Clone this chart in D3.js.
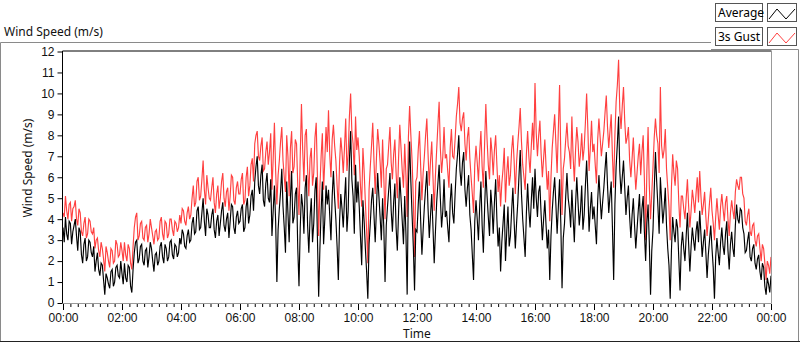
<!DOCTYPE html>
<html>
<head>
<meta charset="utf-8">
<script src="https://cdn.jsdelivr.net/npm/d3@7/dist/d3.min.js"></script>
<style>
  body { margin: 0; background: #fff; }
  svg { display: block; font-family: "Segoe UI", "Noto Sans", sans-serif; }
  .tick text { font-size: 12px; fill: #111; }
  .tick line { stroke: #000; }
</style>
</head>
<body>
<div id="chart"></div>
<script>
// one sample every 2.5 minutes, 00:00 -> 24:00 (one row per hour)
const stepMinutes = 2.5;

const avgSpeed = [
  3.6, 2.9, 4.1, 3.3, 3.0, 3.9, 3.8, 2.8, 3.4, 3.7, 4.0, 3.2, 2.5, 3.6, 3.4, 2.3, 1.9, 2.8, 3.1, 2.0, 2.2, 3.0, 2.9, 2.4,
  2.2, 2.7, 1.5, 2.0, 2.4, 1.6, 1.3, 1.9, 1.8, 1.1, 0.4, 1.4, 1.2, 0.9, 0.7, 1.5, 1.6, 0.8, 1.0, 1.7, 1.8, 1.3, 1.2, 2.0,
  1.4, 0.9, 1.9, 1.2, 1.0, 1.8, 1.7, 0.8, 0.5, 1.6, 2.4, 2.9, 3.0, 1.9, 2.1, 2.7, 2.8, 2.0, 1.8, 2.5, 2.6, 1.7, 2.2, 2.9,
  2.6, 2.0, 1.5, 2.3, 2.4, 1.8, 2.0, 2.7, 2.9, 2.2, 1.9, 2.8, 2.6, 2.0, 2.2, 2.9, 3.0, 2.3, 2.1, 2.8, 2.7, 2.2, 2.4, 3.1,
  2.8, 3.5, 3.3, 2.7, 2.6, 3.2, 3.5, 2.9, 3.0, 3.8, 4.1, 3.3, 3.4, 4.4, 4.6, 3.5, 3.6, 4.3, 5.0, 3.9, 3.2, 4.5, 4.2, 3.6,
  3.6, 4.2, 4.5, 3.5, 3.1, 3.9, 4.2, 3.2, 3.8, 4.4, 4.8, 3.7, 3.4, 4.0, 4.3, 3.1, 3.9, 4.7, 4.6, 3.6, 3.3, 4.1, 4.4, 3.8,
  3.9, 4.5, 4.7, 3.4, 3.6, 4.6, 5.0, 3.8, 4.2, 5.1, 5.4, 4.4, 5.8, 6.5, 7.0, 5.6, 5.2, 6.1, 6.6, 4.9, 4.6, 5.7, 6.2, 5.0,
  4.8, 5.9, 3.2, 4.4, 5.6, 3.9, 1.0, 3.5, 4.5, 5.3, 6.4, 4.6, 3.6, 2.4, 5.8, 4.3, 2.9, 5.0, 6.3, 3.8, 4.1, 5.2, 5.5, 2.6,
  0.8, 3.6, 5.2, 4.6, 3.3, 5.5, 6.1, 3.7, 2.4, 4.1, 5.0, 2.9, 3.8, 5.4, 6.0, 3.1, 0.3, 2.6, 4.4, 5.8, 2.8, 4.0, 5.6, 4.7,
  5.4, 4.2, 3.0, 5.1, 6.3, 5.0, 4.0, 2.7, 1.1, 3.9, 5.2, 4.5, 3.6, 4.9, 6.0, 3.4, 4.4, 6.8, 8.2, 5.9, 5.1, 3.3, 6.6, 4.8,
  5.8, 4.6, 3.2, 1.8, 4.9, 3.9, 2.6, 1.5, 0.2, 2.8, 3.8, 4.9, 5.5, 4.2, 2.9, 4.5, 6.2, 5.1, 4.1, 3.0, 5.0, 3.6, 1.0, 3.7,
  4.6, 5.4, 6.2, 4.4, 3.4, 4.8, 5.7, 3.6, 2.5, 4.3, 6.0, 5.0, 3.9, 2.8, 5.1, 3.3, 0.4, 5.6, 7.7, 5.8, 4.2, 2.7, 0.6, 3.5,
  3.4, 4.7, 5.8, 3.9, 2.3, 3.5, 4.6, 5.5, 6.3, 4.5, 3.1, 4.2, 5.2, 3.6, 1.9, 3.4, 4.8, 5.7, 6.6, 5.0, 3.6, 4.4, 5.9, 4.1,
  4.4, 3.6, 2.9, 4.8, 5.7, 4.3, 3.8, 5.2, 6.4, 7.1, 8.0, 6.3, 5.6, 6.7, 7.2, 5.4, 4.6, 5.5, 6.1, 4.2, 3.5, 2.3, 1.1, 3.9,
  4.9, 4.0, 3.0, 4.6, 5.8, 3.7, 2.4, 4.5, 6.3, 5.1, 4.1, 3.2, 5.4, 4.6, 3.3, 4.8, 5.9, 4.0, 2.7, 3.6, 1.5, 2.9, 3.8, 4.7,
  2.0, 3.4, 4.6, 2.7, 3.2, 4.4, 5.5, 3.9, 2.6, 3.8, 4.8, 6.1, 7.3, 5.2, 4.0, 3.1, 2.2, 4.3, 5.7, 4.4, 3.6, 4.9, 6.0, 4.5,
  6.4, 5.0, 4.1, 5.3, 5.6, 4.2, 3.0, 4.0, 4.9, 3.7, 2.6, 3.5, 1.1, 3.2, 4.4, 5.3, 6.0, 4.7, 3.3, 4.6, 5.9, 3.8, 0.7, 3.1,
  3.8, 5.1, 6.2, 5.0, 4.5, 3.6, 5.4, 4.1, 2.9, 4.7, 6.0, 4.8, 3.7, 4.4, 5.6, 3.5, 4.2, 5.6, 6.8, 5.3, 3.4, 4.5, 5.3, 4.0,
  4.6, 3.7, 2.8, 4.9, 6.1, 5.0, 4.0, 4.8, 5.5, 6.4, 7.2, 5.6, 4.3, 5.1, 5.8, 3.6, 1.1, 4.7, 6.5, 7.6, 8.9, 6.3, 5.2, 6.0,
  6.8, 5.5, 4.2, 5.0, 5.6, 4.1, 3.1, 4.2, 5.0, 3.7, 2.6, 3.5, 4.4, 5.2, 3.3, 4.5, 5.1, 3.4, 2.0, 3.8, 4.7, 2.9, 0.4, 2.5,
  3.5, 5.4, 7.2, 5.8, 4.6, 3.3, 6.0, 4.9, 3.8, 4.5, 5.5, 3.7, 2.6, 1.8, 0.2, 2.5, 4.1, 3.4, 2.9, 4.0, 3.6, 2.1, 0.6, 2.7,
  3.4, 2.6, 2.0, 3.2, 4.3, 2.8, 1.5, 2.7, 3.6, 3.0, 2.5, 3.4, 3.9, 2.9, 4.4, 3.3, 2.2, 2.9, 3.5, 2.4, 1.2, 2.3, 3.0, 3.7,
  2.6, 1.7, 0.2, 2.2, 3.1, 2.4, 1.8, 2.9, 3.6, 2.7, 2.3, 3.3, 3.9, 2.5, 1.6, 2.8, 3.4, 2.6, 2.2, 3.7, 4.7, 4.0, 3.8, 4.5,
  4.4, 3.6, 3.3, 2.4, 2.5, 3.0, 3.4, 2.2, 2.0, 2.6, 2.8, 1.9, 1.6, 2.1, 2.3, 1.5, 1.1, 1.9, 1.7, 0.8, 0.4, 1.2, 0.9, 0.5,
  1.3
];

const gustSpeed = [
  4.3, 4.1, 5.1, 4.4, 4.0, 4.7, 4.8, 3.9, 4.5, 4.6, 4.9, 4.0, 3.7, 4.5, 4.3, 3.4, 3.2, 3.8, 4.1, 3.1, 3.3, 4.0, 3.9, 3.4,
  3.3, 3.6, 2.6, 3.0, 3.1, 2.5, 2.2, 2.9, 2.6, 2.1, 1.5, 2.7, 2.4, 2.0, 1.7, 2.6, 2.5, 1.9, 2.0, 3.0, 2.8, 2.2, 2.3, 2.9,
  2.5, 2.0, 2.9, 2.3, 2.0, 2.8, 2.6, 1.9, 1.6, 2.7, 3.6, 4.1, 4.3, 3.0, 3.2, 3.8, 3.9, 3.1, 3.0, 3.6, 3.7, 2.9, 3.3, 4.0,
  3.6, 3.2, 2.8, 3.4, 3.5, 3.0, 3.1, 3.9, 4.1, 3.3, 3.0, 3.9, 3.8, 3.1, 3.3, 4.0, 4.0, 3.5, 3.2, 3.9, 3.8, 3.4, 3.6, 4.2,
  3.8, 4.5, 4.4, 3.9, 3.7, 4.3, 4.6, 4.0, 4.2, 5.0, 5.6, 4.6, 4.8, 5.8, 6.0, 4.9, 5.1, 5.9, 6.8, 5.4, 4.7, 6.1, 5.5, 5.0,
  4.9, 5.5, 6.0, 4.8, 4.3, 5.2, 5.6, 4.5, 5.0, 5.8, 6.2, 5.0, 4.6, 5.3, 5.5, 4.4, 5.1, 6.1, 6.0, 4.9, 4.7, 5.5, 5.8, 5.2,
  5.2, 5.9, 6.2, 4.7, 4.9, 6.0, 6.5, 5.1, 5.6, 6.6, 6.9, 5.8, 7.6, 8.0, 8.2, 7.0, 6.8, 7.5, 7.9, 6.3, 6.4, 7.2, 7.7, 6.6,
  7.2, 8.1, 5.4, 6.9, 8.6, 6.3, 4.7, 6.1, 6.8, 7.7, 8.4, 6.8, 6.0, 5.3, 8.0, 7.0, 5.1, 7.4, 8.2, 6.2, 6.5, 7.8, 7.6, 5.6,
  4.2, 7.0, 9.5, 7.3, 5.8, 8.0, 8.3, 6.4, 5.1, 6.9, 7.4, 5.6, 6.2, 7.9, 8.6, 6.0, 3.2, 5.5, 7.0, 8.1, 5.4, 6.8, 8.4, 7.2,
  9.2, 7.1, 6.0, 7.8, 8.5, 7.5, 6.8, 5.6, 4.5, 6.7, 7.9, 7.2, 6.2, 7.4, 8.8, 6.3, 7.1, 8.9, 10.0, 8.2, 7.6, 6.1, 8.9, 7.3,
  7.9, 7.0, 5.6, 4.6, 7.4, 6.3, 4.8, 3.5, 1.9, 5.4, 6.5, 7.5, 8.6, 6.8, 5.2, 6.9, 8.3, 7.6, 6.7, 5.5, 7.8, 6.0, 4.0, 6.4,
  6.6, 7.5, 8.4, 6.7, 5.9, 7.1, 7.8, 6.2, 5.0, 6.9, 8.5, 7.4, 6.3, 5.5, 7.6, 6.1, 4.1, 7.9, 9.4, 8.0, 6.8, 5.0, 2.2, 5.8,
  6.0, 7.3, 8.2, 6.5, 4.9, 6.2, 7.0, 8.0, 8.8, 7.1, 5.6, 6.8, 7.7, 6.0, 4.4, 6.1, 7.3, 8.5, 9.6, 7.4, 6.2, 7.0, 8.4, 6.9,
  7.1, 6.3, 5.5, 7.4, 8.3, 7.0, 6.9, 7.8, 8.9, 9.5, 10.3, 8.6, 8.2, 8.8, 9.1, 7.6, 6.8, 7.9, 8.4, 6.9, 6.0, 5.2, 4.3, 6.6,
  7.5, 6.7, 5.8, 7.2, 8.2, 6.5, 5.5, 7.6, 9.5, 7.8, 6.6, 5.9, 7.9, 7.2, 6.1, 7.3, 8.0, 6.6, 5.3, 6.1, 4.6, 5.7, 6.4, 7.4,
  4.8, 6.2, 7.0, 5.6, 6.1, 7.3, 8.0, 6.8, 5.2, 6.7, 7.6, 8.4, 9.3, 7.7, 6.6, 6.0, 5.4, 7.1, 8.2, 7.0, 6.2, 7.5, 8.6, 7.3,
  10.5, 8.1, 7.0, 8.0, 8.7, 7.1, 6.0, 6.9, 7.8, 6.5, 5.4, 6.3, 3.9, 6.0, 7.4, 8.2, 9.0, 7.6, 6.2, 8.3, 10.4, 7.0, 4.2, 6.4,
  6.9, 7.8, 8.6, 7.5, 7.2, 6.4, 8.9, 7.0, 5.8, 7.3, 8.4, 7.7, 6.5, 7.1, 8.1, 6.8, 7.4, 8.6, 10.0, 8.3, 6.3, 7.4, 8.7, 7.2,
  7.6, 6.6, 5.7, 7.8, 8.8, 7.9, 7.0, 7.6, 8.2, 9.1, 9.9, 8.4, 7.4, 8.2, 9.0, 7.0, 5.5, 8.0, 9.6, 10.4, 11.6, 9.2, 8.3, 9.4,
  10.3, 8.7, 7.6, 7.9, 8.4, 6.8, 6.0, 6.9, 7.9, 6.5, 5.4, 6.2, 7.0, 7.6, 6.1, 7.2, 8.0, 5.9, 3.0, 6.3, 8.4, 5.6, 4.0, 5.2,
  6.5, 7.9, 8.8, 8.0, 7.6, 6.2, 10.3, 7.5, 6.9, 7.3, 8.3, 6.4, 5.5, 4.6, 3.0, 5.5, 7.1, 6.2, 5.6, 6.8, 6.4, 4.8, 3.6, 5.1,
  5.1, 4.5, 4.0, 5.0, 5.9, 4.6, 3.6, 4.4, 5.4, 4.9, 4.3, 5.2, 6.0, 4.8, 6.3, 5.1, 4.2, 4.7, 5.3, 4.1, 3.2, 4.0, 4.8, 5.5,
  4.4, 3.8, 3.0, 4.1, 5.0, 4.2, 3.5, 4.6, 5.2, 4.5, 3.9, 4.8, 5.1, 4.0, 3.2, 4.3, 4.9, 4.4, 4.0, 5.3, 5.9, 5.6, 5.4, 6.0,
  6.0, 5.2, 5.0, 3.9, 3.7, 4.2, 4.5, 3.4, 3.2, 3.7, 3.8, 3.0, 2.7, 3.2, 3.3, 2.6, 2.0, 2.8, 2.6, 1.9, 1.1, 2.0, 1.8, 1.4,
  2.2
];

const xTickHours = [0, 2, 4, 6, 8, 10, 12, 14, 16, 18, 20, 22, 24];
const xTickLabels = ["00:00", "02:00", "04:00", "06:00", "08:00", "10:00", "12:00",
  "14:00", "16:00", "18:00", "20:00", "22:00", "00:00"];
const yTicks = [0, 1, 2, 3, 4, 5, 6, 7, 8, 9, 10, 11, 12];

const series = [
  { name: "3s Gust", values: gustSpeed, color: "#ff4040" },
  { name: "Average", values: avgSpeed, color: "#000000" }
];

const width = 800;
const height = 342;
const plot = { left: 63, right: 771, top: 51.5, bottom: 303 };

const x = d3.scaleLinear().domain([0, 24]).range([plot.left, plot.right]);
const y = d3.scaleLinear().domain([0, 12]).range([plot.bottom, plot.top]);

const svg = d3.select("#chart")
  .append("svg")
  .attr("width", width)
  .attr("height", height);

// outer panel frame
svg.append("path")
  .attr("d", "M0.5,341 V42.5 H711 M711,49.5 H798.5 V341")
  .attr("fill", "none")
  .attr("stroke", "#8a8a8a");
svg.append("line")
  .attr("x1", 0).attr("x2", 800).attr("y1", 341.5).attr("y2", 341.5)
  .attr("stroke", "#222");

svg.append("text")
  .attr("x", 4).attr("y", 36)
  .attr("font-size", 12)
  .attr("fill", "#111")
  .text("Wind Speed (m/s)");

// legend
const legend = svg.append("g");
series.slice().reverse().forEach((s, i) => {
  const top = 3 + i * 24;
  legend.append("rect")
    .attr("x", 715.5).attr("y", top + 0.5).attr("width", 47).attr("height", 18)
    .attr("fill", "#fff").attr("stroke", "#555");
  legend.append("text")
    .attr("x", 718).attr("y", top + 14)
    .attr("font-size", 12).attr("fill", "#000")
    .text(s.name);
  legend.append("rect")
    .attr("x", 767.5).attr("y", top + 0.5).attr("width", 29).attr("height", 18)
    .attr("fill", "#fff").attr("stroke", "#555");
  legend.append("path")
    .attr("d", `M769,${top + 16} L777,${top + 6} L786,${top + 16} L795,${top + 6}`)
    .attr("fill", "none")
    .attr("stroke", s.color);
});

// plot frame: dark top/left, grey bottom/right
svg.append("rect")
  .attr("x", plot.left).attr("y", plot.top)
  .attr("width", plot.right - plot.left).attr("height", plot.bottom - plot.top)
  .attr("fill", "#fff");
svg.append("path")
  .attr("d", `M${plot.left - 0.5},${plot.bottom} V${plot.top - 0.5} H${plot.right + 0.5}`)
  .attr("fill", "none")
  .attr("stroke", "#000");
svg.append("path")
  .attr("d", `M${plot.left - 0.5},${plot.bottom + 0.5} H${plot.right + 0.5} V${plot.top - 0.5}`)
  .attr("fill", "none")
  .attr("stroke", "#999");

svg.append("clipPath").attr("id", "clip")
  .append("rect")
  .attr("x", plot.left).attr("y", plot.top)
  .attr("width", plot.right - plot.left).attr("height", plot.bottom - plot.top);

const line = d3.line()
  .x((d, i) => x(i * stepMinutes / 60))
  .y((d) => y(d));

svg.append("g")
  .attr("clip-path", "url(#clip)")
  .selectAll("path")
  .data(series)
  .join("path")
  .attr("fill", "none")
  .attr("stroke", (d) => d.color)
  .attr("stroke-width", 1.15)
  .attr("d", (d) => line(d.values));

// y axis
const yAxis = svg.append("g")
  .attr("transform", `translate(${plot.left - 0.5},0)`)
  .call(d3.axisLeft(y).tickValues(yTicks).tickSize(5).tickPadding(3));
yAxis.select(".domain").remove();

// x axis, minor then major ticks
const xMinor = svg.append("g")
  .attr("transform", `translate(0,${plot.bottom + 1})`)
  .call(d3.axisBottom(x).tickValues(d3.range(0, 24.01, 0.25)).tickSize(3).tickFormat(""));
xMinor.select(".domain").remove();

const xAxis = svg.append("g")
  .attr("transform", `translate(0,${plot.bottom + 1})`)
  .call(d3.axisBottom(x).tickValues(xTickHours).tickSize(6).tickPadding(3)
    .tickFormat((d, i) => xTickLabels[i]));
xAxis.select(".domain").remove();

svg.append("text")
  .attr("transform", `translate(32,168) rotate(-90)`)
  .attr("text-anchor", "middle")
  .attr("font-size", 12)
  .attr("fill", "#111")
  .text("Wind Speed (m/s)");

svg.append("text")
  .attr("x", 403).attr("y", 338)
  .attr("font-size", 12)
  .attr("fill", "#111")
  .text("Time");
</script>
</body>
</html>
